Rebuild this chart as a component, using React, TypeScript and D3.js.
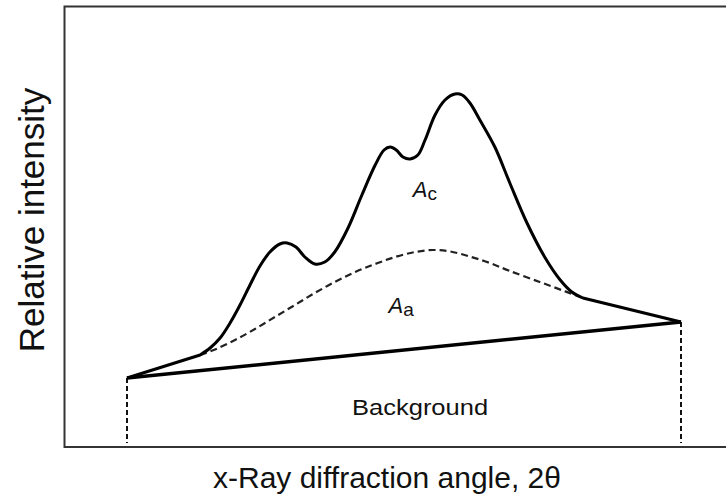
import React from 'react';
import * as d3 from 'd3';

// XRD crystallinity sketch: crystalline peaks over an amorphous hump and a linear background

const W = 726;
const H = 497;

// 2θ in arbitrary units (0..100 across the scan), intensity in arbitrary units
const scanEnds = [0, 100];
const backgroundLevel = [17.25, 31.25];

const crystalAngle = [
  0, 13.2, 15.0, 16.8, 18.6, 20.4, 22.2, 24.0, 25.8, 27.6, 28.9, 30.5, 32.1, 33.9, 35.7,
  37.5, 39.9, 42.4, 44.8, 46.4, 47.5, 48.6, 49.8, 51.1, 52.5, 53.8, 55.6, 57.4, 59.2,
  60.5, 61.9, 63.7, 66.4, 69.1, 72.2, 75.5, 78.2, 80.3, 82.3, 100,
];
const crystalIntensity = [
  17.25, 23, 24.75, 27.25, 31, 35.5, 40.5, 45.25, 48.75, 50.75, 51, 50, 47.5, 45.75, 46.25,
  48.75, 54.75, 63, 70.5, 74.25, 75, 74.25, 72.5, 72, 73, 76.75, 83, 86.75, 88.25,
  88, 86, 81.75, 75, 66, 56, 47.25, 41.75, 38.75, 37.25, 31.25,
];

const amorphAngle = [
  13.2, 15.9, 19.5, 23.1, 26.7, 30.3, 33.9, 37.5, 41.2, 44.8, 48.4, 52.0, 55.2, 58.3,
  61.9, 65.5, 69.1, 74.5, 79.1, 82.3,
];
const amorphIntensity = [
  23, 24.4, 26.75, 29.5, 32.5, 35.5, 38.5, 41.25, 43.75, 45.75, 47.5, 48.75, 49.25, 48.9,
  47.6, 46, 44, 41.25, 38.9, 37.25,
];

const labelText = ['A', 'A', 'Background'];
const labelSub = ['c', 'a', ''];
const labelAngle = [51.6, 47.2, 52.9];
const labelIntensity = [62.5, 33.5, 8];

const font = 'Liberation Sans, Arial, sans-serif';

const App = () => {
  const x = d3.scaleLinear().domain([0, 100]).range([127, 681]);
  const y = d3.scaleLinear().domain([0, 110]).range([447, 7]);

  const crystal = crystalAngle.map((a, i) => [a, crystalIntensity[i]] as [number, number]);
  const amorph = amorphAngle.map((a, i) => [a, amorphIntensity[i]] as [number, number]);
  const bg = scanEnds.map((a, i) => [a, backgroundLevel[i]] as [number, number]);

  const straight = d3.line<[number, number]>().x(d => x(d[0])).y(d => y(d[1]));
  const smooth = d3
    .line<[number, number]>()
    .x(d => x(d[0]))
    .y(d => y(d[1]))
    .curve(d3.curveCatmullRom.alpha(0.5));

  // straight ramps at both ends, smooth through the peaks
  const n = crystal.length;
  const crystalPath =
    straight(crystal.slice(0, 2))! +
    smooth(crystal.slice(1, n - 1))!.replace(/^M/, 'L') +
    straight(crystal.slice(n - 2))!.replace(/^M/, 'L');

  return (
    <svg width={W} height={H} style={{ position: 'absolute', left: 0, top: 0, background: '#fff' }}>
      {/* frame, open on the right */}
      <rect x={64.5} y={6.5} width={700} height={440.5} fill="none" stroke="#333" strokeWidth={2} />

      {/* drop lines at the scan ends */}
      {bg.map((d, i) => (
        <line
          key={i}
          x1={x(d[0])}
          x2={x(d[0])}
          y1={y(d[1])}
          y2={y(1)}
          stroke="#111"
          strokeWidth={2}
          strokeDasharray="5,3"
        />
      ))}

      <path d={straight(bg)!} fill="none" stroke="#000" strokeWidth={3.5} />
      <path d={smooth(amorph)!} fill="none" stroke="#222" strokeWidth={2.2} strokeDasharray="7,4" />
      <path d={crystalPath} fill="none" stroke="#000" strokeWidth={3} strokeLinejoin="round" />

      {labelText.map((t, i) =>
        labelSub[i] ? (
          <text
            key={i}
            x={x(labelAngle[i])}
            y={y(labelIntensity[i])}
            fontFamily={font}
            fontSize={22}
            fill="#111"
          >
            <tspan fontStyle="italic">{t}</tspan>
            <tspan fontSize={19} dy={3}>{labelSub[i]}</tspan>
          </text>
        ) : (
          <text
            key={i}
            x={x(labelAngle[i])}
            y={y(labelIntensity[i])}
            textAnchor="middle"
            fontFamily={font}
            fontSize={22}
            textLength={136}
            lengthAdjust="spacingAndGlyphs"
            fill="#111"
          >
            {t}
          </text>
        )
      )}

      <text x={387} y={488} textAnchor="middle" fontFamily={font} fontSize={30} fill="#111">
        x-Ray diffraction angle, 2θ
      </text>
      <text
        transform="translate(44,220) rotate(-90)"
        textAnchor="middle"
        fontFamily={font}
        fontSize={35}
        fill="#111"
      >
        Relative intensity
      </text>
    </svg>
  );
};

export default App;
